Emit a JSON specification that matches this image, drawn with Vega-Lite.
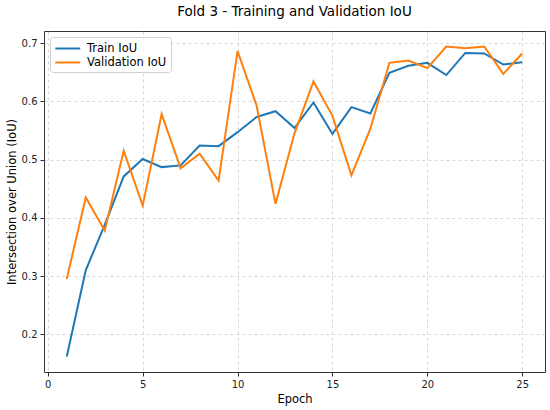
{
  "$schema": "https://vega.github.io/schema/vega-lite/v6.json",
  "autosize": "none",
  "width": 501,
  "height": 341,
  "padding": {"left": 44, "top": 31, "right": 5, "bottom": 38},
  "title": {"text": "Fold 3 - Training and Validation IoU", "fontSize": 13.5, "font": "DejaVu Sans", "fontWeight": "normal", "color": "#000", "offset": 13},
  "data": {"values": [
    {"epoch": 1, "series": "Train IoU", "iou": 0.162},
    {"epoch": 2, "series": "Train IoU", "iou": 0.310},
    {"epoch": 3, "series": "Train IoU", "iou": 0.388},
    {"epoch": 4, "series": "Train IoU", "iou": 0.471},
    {"epoch": 5, "series": "Train IoU", "iou": 0.501},
    {"epoch": 6, "series": "Train IoU", "iou": 0.487},
    {"epoch": 7, "series": "Train IoU", "iou": 0.490},
    {"epoch": 8, "series": "Train IoU", "iou": 0.524},
    {"epoch": 9, "series": "Train IoU", "iou": 0.523},
    {"epoch": 10, "series": "Train IoU", "iou": 0.547},
    {"epoch": 11, "series": "Train IoU", "iou": 0.573},
    {"epoch": 12, "series": "Train IoU", "iou": 0.583},
    {"epoch": 13, "series": "Train IoU", "iou": 0.554},
    {"epoch": 14, "series": "Train IoU", "iou": 0.598},
    {"epoch": 15, "series": "Train IoU", "iou": 0.544},
    {"epoch": 16, "series": "Train IoU", "iou": 0.590},
    {"epoch": 17, "series": "Train IoU", "iou": 0.579},
    {"epoch": 18, "series": "Train IoU", "iou": 0.649},
    {"epoch": 19, "series": "Train IoU", "iou": 0.661},
    {"epoch": 20, "series": "Train IoU", "iou": 0.666},
    {"epoch": 21, "series": "Train IoU", "iou": 0.645},
    {"epoch": 22, "series": "Train IoU", "iou": 0.683},
    {"epoch": 23, "series": "Train IoU", "iou": 0.682},
    {"epoch": 24, "series": "Train IoU", "iou": 0.663},
    {"epoch": 25, "series": "Train IoU", "iou": 0.667},
    {"epoch": 1, "series": "Validation IoU", "iou": 0.295},
    {"epoch": 2, "series": "Validation IoU", "iou": 0.435},
    {"epoch": 3, "series": "Validation IoU", "iou": 0.378},
    {"epoch": 4, "series": "Validation IoU", "iou": 0.515},
    {"epoch": 5, "series": "Validation IoU", "iou": 0.421},
    {"epoch": 6, "series": "Validation IoU", "iou": 0.578},
    {"epoch": 7, "series": "Validation IoU", "iou": 0.485},
    {"epoch": 8, "series": "Validation IoU", "iou": 0.510},
    {"epoch": 9, "series": "Validation IoU", "iou": 0.464},
    {"epoch": 10, "series": "Validation IoU", "iou": 0.686},
    {"epoch": 11, "series": "Validation IoU", "iou": 0.593},
    {"epoch": 12, "series": "Validation IoU", "iou": 0.424},
    {"epoch": 13, "series": "Validation IoU", "iou": 0.545},
    {"epoch": 14, "series": "Validation IoU", "iou": 0.634},
    {"epoch": 15, "series": "Validation IoU", "iou": 0.575},
    {"epoch": 16, "series": "Validation IoU", "iou": 0.473},
    {"epoch": 17, "series": "Validation IoU", "iou": 0.553},
    {"epoch": 18, "series": "Validation IoU", "iou": 0.666},
    {"epoch": 19, "series": "Validation IoU", "iou": 0.670},
    {"epoch": 20, "series": "Validation IoU", "iou": 0.657},
    {"epoch": 21, "series": "Validation IoU", "iou": 0.694},
    {"epoch": 22, "series": "Validation IoU", "iou": 0.691},
    {"epoch": 23, "series": "Validation IoU", "iou": 0.694},
    {"epoch": 24, "series": "Validation IoU", "iou": 0.647},
    {"epoch": 25, "series": "Validation IoU", "iou": 0.682}
  ]},
  "mark": {"type": "line", "strokeWidth": 2, "clip": true},
  "encoding": {
    "x": {"field": "epoch", "type": "quantitative", "title": "Epoch",
      "scale": {"domain": [-0.2, 26.2], "nice": false, "zero": false},
      "axis": {"values": [0, 5, 10, 15, 20, 25], "format": "d"}},
    "y": {"field": "iou", "type": "quantitative", "title": "Intersection over Union (IoU)",
      "scale": {"domain": [0.1354, 0.7206], "nice": false, "zero": false},
      "axis": {"values": [0.2, 0.3, 0.4, 0.5, 0.6, 0.7], "format": ".1f"}},
    "color": {"field": "series", "type": "nominal", "title": null,
      "scale": {"domain": ["Train IoU", "Validation IoU"], "range": ["#1f77b4", "#ff7f0e"]},
      "legend": {"orient": "none", "legendX": 6, "legendY": 6, "symbolType": "M-1,0H3", "symbolSize": 156, "symbolStrokeWidth": 2,
        "labelFontSize": 11.5, "labelFont": "DejaVu Sans", "labelColor": "#000", "labelOffset": 18, "rowPadding": 1,
        "padding": 4, "strokeColor": "#d0d0d0", "fillColor": "rgba(255,255,255,0.8)", "cornerRadius": 3}}
  },
  "config": {
    "font": "DejaVu Sans",
    "view": {"stroke": "#333", "strokeWidth": 1},
    "axis": {
      "grid": true, "gridColor": "#b0b0b0", "gridDash": [3, 3], "gridWidth": 0.7, "gridOpacity": 0.7,
      "domain": false, "tickColor": "#333", "tickSize": 4, "tickWidth": 1,
      "labelFontSize": 10, "labelColor": "#222", "labelFont": "DejaVu Sans", "labelPadding": 3,
      "titleFontSize": 11.5, "titleFont": "DejaVu Sans", "titleFontWeight": "normal", "titleColor": "#000"
    },
    "axisX": {"titlePadding": 4},
    "axisY": {"titlePadding": 4}
  }
}
